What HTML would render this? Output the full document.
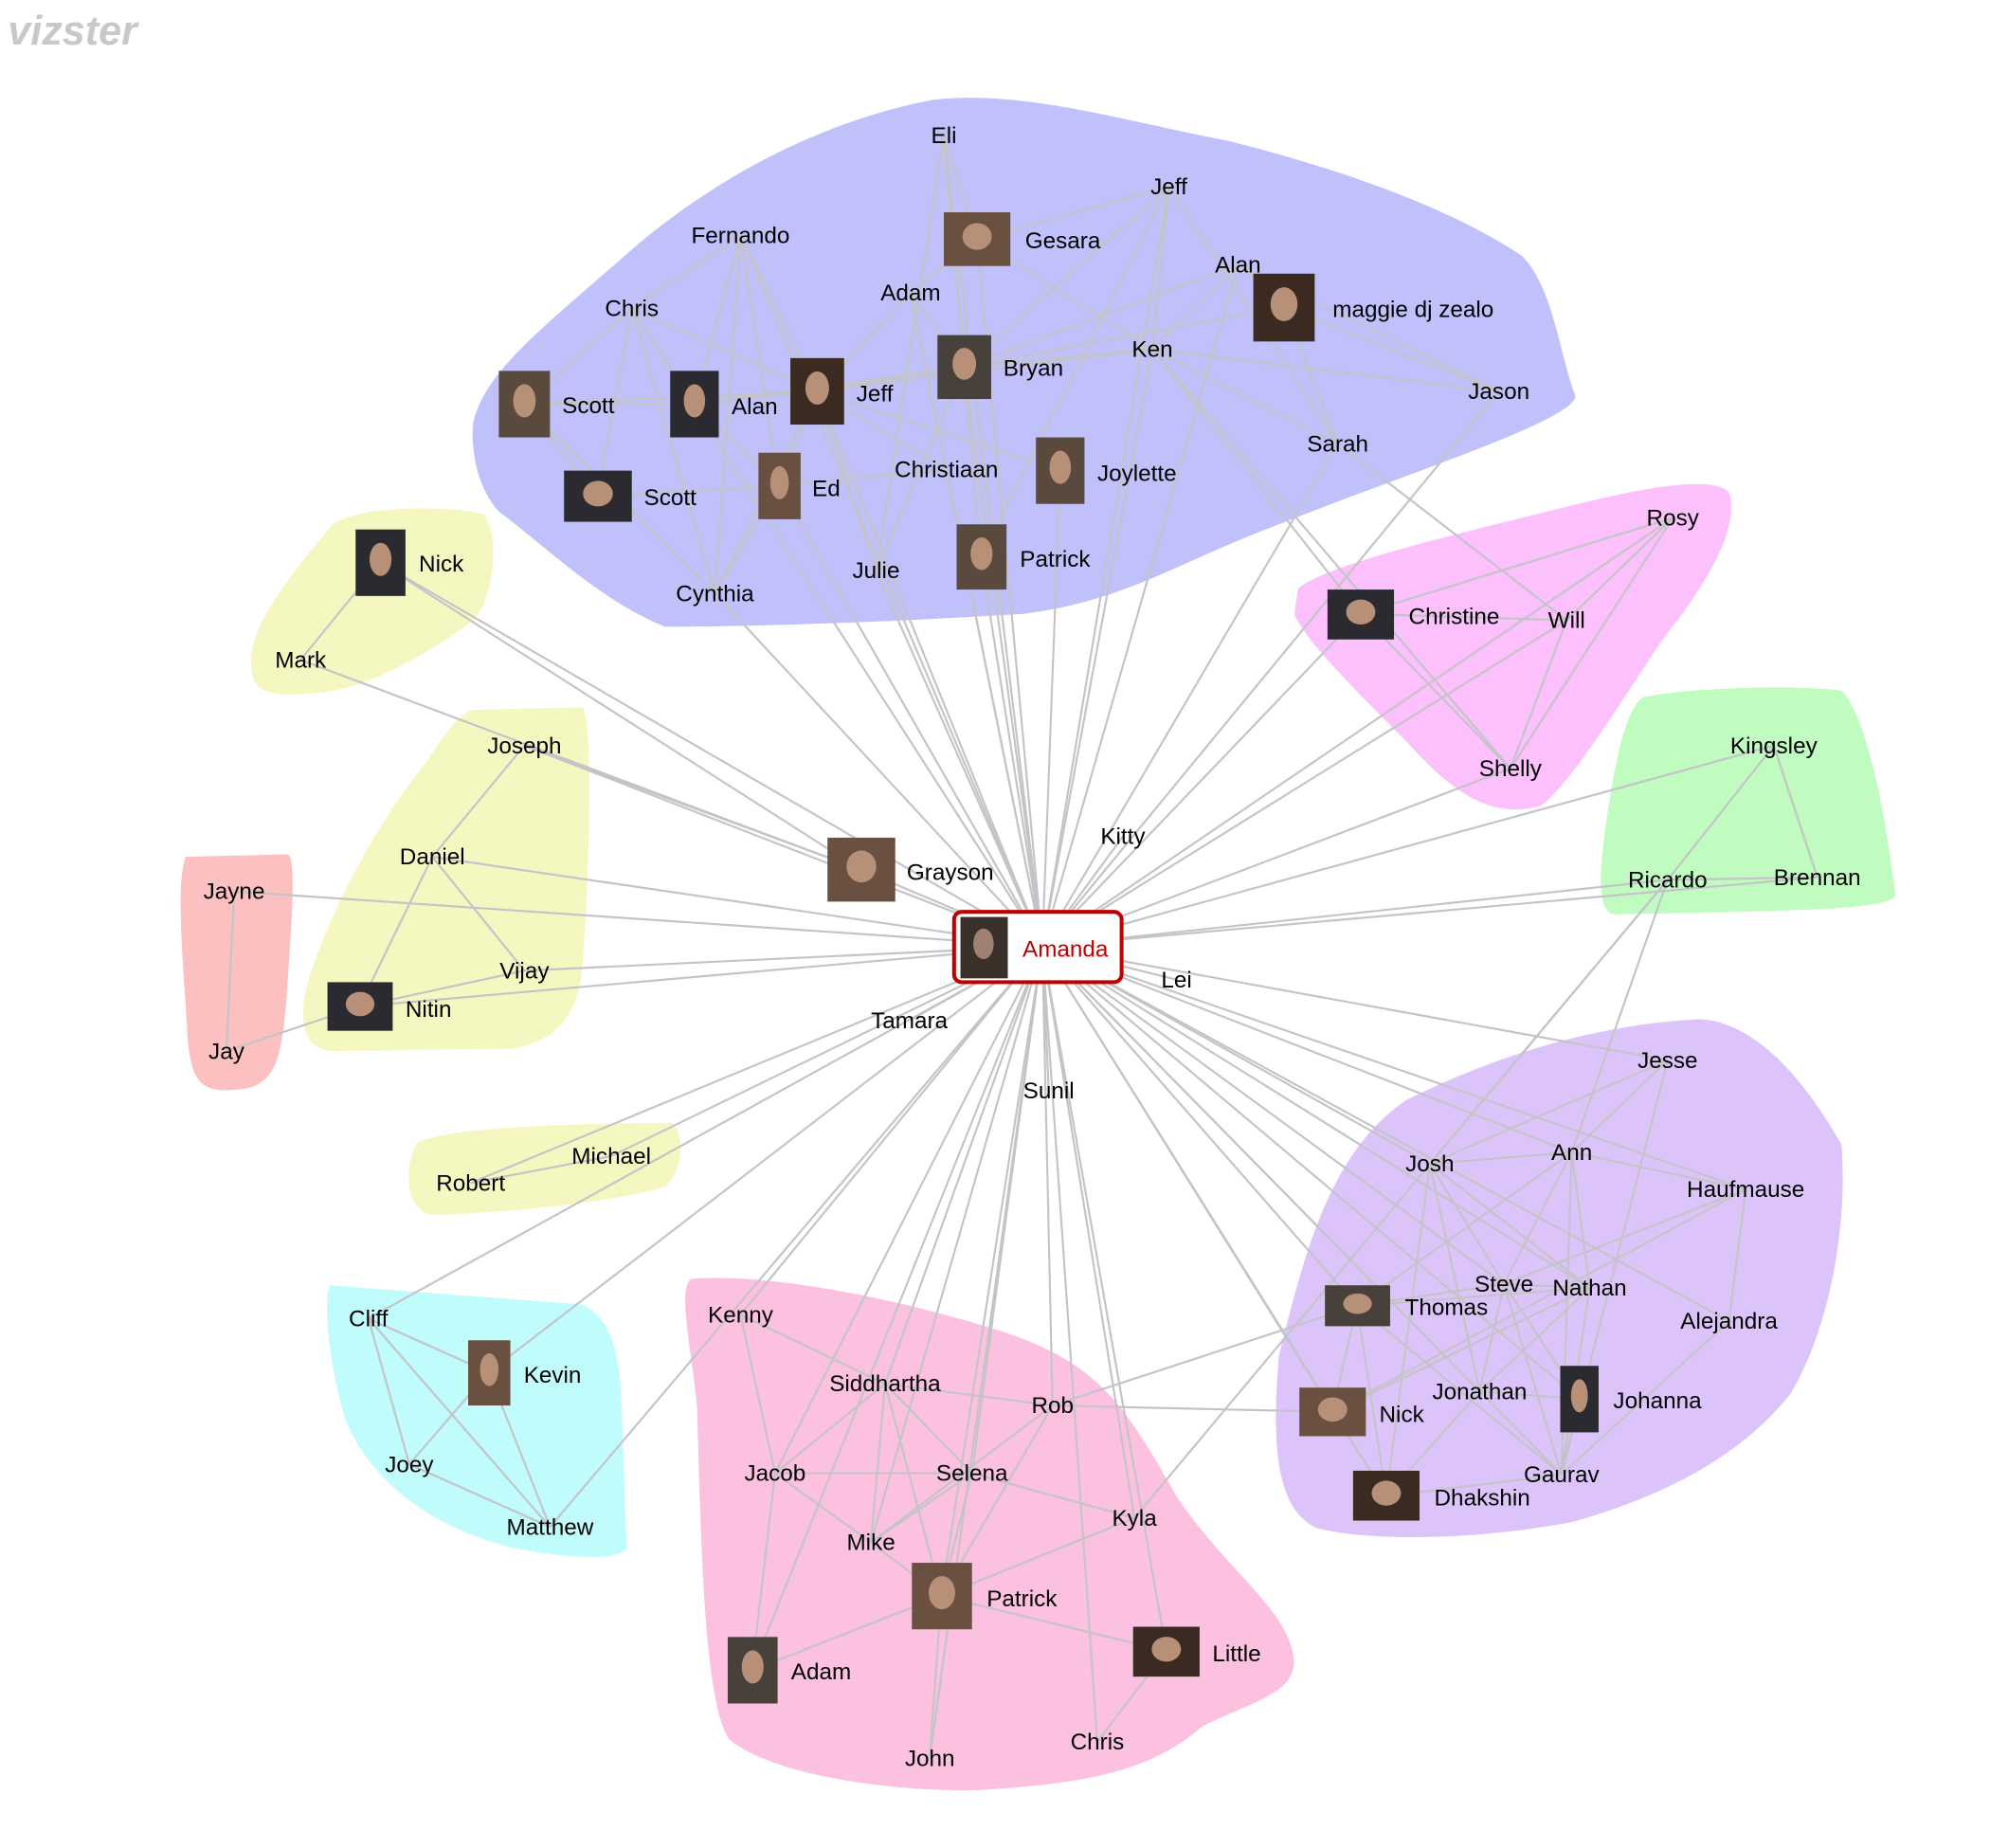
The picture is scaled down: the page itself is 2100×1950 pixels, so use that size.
<!DOCTYPE html>
<html><head><meta charset="utf-8"><style>
html,body{margin:0;padding:0;background:#fff}
svg{display:block}
text{font-family:"Liberation Sans",sans-serif;font-size:18px;fill:#000}
</style></head><body>
<svg id="s" width="2100" height="1950" viewBox="0 0 1556 1445" xmlns="http://www.w3.org/2000/svg">
<rect width="1556" height="1445" fill="#fff"/>
<text x="6" y="35" style="font-size:32px;font-weight:bold;font-style:italic;fill:#c8c8c8">vizster</text>
<g id="hulls">
<path d="M370,330 C380,290 420,260 500,190 C560,140 640,95 730,78 C800,70 880,95 960,110 C1040,130 1130,160 1190,200 C1215,225 1220,280 1232,310 C1228,330 1100,370 1000,410 C920,440 880,470 800,480 C700,486 600,490 520,490 C470,470 430,430 390,400 C372,380 368,350 370,330Z" fill="#c0c0fa"/>
<path d="M198,530 C190,500 210,470 260,410 C280,395 350,395 378,402 C392,420 385,470 370,485 C330,515 290,535 260,540 C230,545 200,545 198,530Z" fill="#f4f8c0"/>
<path d="M370,555 L455,553 C465,560 460,700 455,760 C450,800 430,815 400,820 L260,822 C240,820 232,805 240,770 C255,720 290,650 330,600 C345,580 355,560 370,555Z" fill="#f4f8c0"/>
<path d="M145,670 L225,668 C232,672 228,720 224,780 C220,830 215,850 185,852 C155,855 148,845 146,800 C142,740 138,690 145,670Z" fill="#fcc0c0"/>
<path d="M325,895 C340,880 480,878 525,878 C535,885 535,915 520,928 C480,940 400,948 340,950 C318,950 315,915 325,895Z" fill="#f4f8c0"/>
<path d="M258,1005 L455,1020 C478,1030 485,1060 486,1100 L490,1210 C485,1222 440,1218 400,1210 C340,1195 290,1160 270,1110 C258,1070 252,1020 258,1005Z" fill="#c0fcfc"/>
<path d="M540,1000 C600,995 700,1015 780,1040 C860,1065 880,1100 920,1170 C960,1230 1010,1260 1012,1300 C1010,1325 980,1330 940,1350 C900,1385 850,1395 760,1400 C680,1400 600,1385 570,1360 C550,1330 548,1200 545,1100 C540,1050 530,1010 540,1000Z" fill="#fcc0e0"/>
<path d="M1000,1060 C1020,980 1040,900 1100,860 C1180,820 1260,800 1330,797 C1380,800 1420,860 1440,895 C1445,960 1430,1040 1400,1090 C1360,1140 1300,1170 1230,1190 C1150,1205 1070,1205 1030,1195 C995,1180 995,1120 1000,1060Z" fill="#dcc4fa"/>
<path d="M1015,460 C1040,440 1150,415 1230,395 C1290,380 1340,372 1352,385 C1360,410 1340,450 1300,500 C1260,560 1230,610 1205,630 C1170,640 1140,625 1100,580 C1060,540 1020,500 1012,480Z" fill="#fcc0fc"/>
<path d="M1285,545 C1320,538 1400,535 1440,540 C1460,560 1475,640 1482,700 C1478,712 1400,712 1262,715 C1250,712 1250,690 1255,650 C1262,600 1270,555 1285,545Z" fill="#c0fcc0"/>
</g>
<g id="edges" stroke="#c4c4c8" stroke-width="1.6" fill="none"></g>
<g id="nodes"></g>
</svg>
<script>
var N={
A:[815,740],
eli:[738,106],jeff1:[914,146],fern:[579,184],ges:[764,187],alan1:[968,207],mag:[1004,240],chris1:[494,241],adam1:[712,229],ken:[901,273],bryan:[754,287],jeff2:[639,306],scott1:[410,316],alan2:[543,316],jason:[1172,306],sarah:[1046,347],chrt:[740,367],joy:[829,368],scott2:[467,388],ed:[609,380],julie:[685,446],cyn:[559,464],pat1:[767,435],
nick1:[297,440],mark:[235,516],joseph:[410,583],daniel:[338,670],vijay:[410,759],nitin:[281,787],jayne:[183,697],jay:[177,822],michael:[478,904],robert:[368,925],
cliff:[288,1031],kevin:[382,1073],joey:[320,1145],matthew:[430,1194],
kenny:[579,1028],sid:[692,1082],rob:[823,1099],jacob:[606,1152],selena:[760,1152],kyla:[887,1187],mike:[681,1206],pat2:[736,1248],adam2:[588,1306],little:[912,1291],john:[727,1375],chris2:[858,1362],
jesse:[1304,829],josh:[1118,910],ann:[1229,901],hauf:[1365,930],steve:[1176,1004],nathan:[1243,1007],thomas:[1061,1021],alej:[1352,1033],jon:[1157,1088],johanna:[1235,1094],nick2:[1042,1104],gaurav:[1221,1153],dhak:[1084,1170],
rosy:[1308,405],christine:[1064,480],will:[1225,485],shelly:[1181,601],
king:[1387,583],ricardo:[1304,688],brennan:[1421,686],
grayson:[673,680],kitty:[878,654],lei:[920,766],tamara:[711,798],sunil:[820,853]};
var E=[];
for(var k in N){if(k!='A'&&['mark','jay','robert','cliff','joey','matthew','eli','fern','chris1','scott1','scott2','mag','alan2','kevin'].indexOf(k)<0)E.push(['A',k]);}
E=E.concat([['jay','nitin'],['mark','grayson'],['nick1','grayson'],['joseph','grayson'],['robert','A'],['cliff','A'],['matthew','A'],['chris1','A'],['fern','A'],['eli','A'],['kevin','A'],
['eli','ges'],['eli','bryan'],['eli','julie'],['fern','chris1'],['fern','alan2'],['fern','jeff2'],['fern','cyn'],['fern','ed'],['chris1','scott1'],['chris1','alan2'],['chris1','jeff2'],['chris1','scott2'],['chris1','cyn'],['scott1','alan2'],['scott1','jeff2'],['scott1','scott2'],['alan2','jeff2'],['alan2','bryan'],['jeff2','bryan'],['jeff2','ken'],['jeff2','adam1'],['jeff2','joy'],['jeff2','julie'],['jeff2','cyn'],['adam1','bryan'],['adam1','ges'],['bryan','ken'],['bryan','mag'],['bryan','alan1'],['ges','ken'],['ges','jeff1'],['jeff1','ken'],['jeff1','sarah'],['jeff1','bryan'],['jeff1','pat1'],['alan1','ken'],['alan1','mag'],['alan1','jason'],['mag','jason'],['mag','sarah'],['ken','sarah'],['ken','christine'],['ken','shelly'],['ken','jason'],['scott2','ed'],['ed','chrt'],['ed','jeff2'],['ed','cyn'],['alan2','ed'],['julie','bryan'],['cyn','scott1'],['pat1','bryan'],['jeff2','chrt'],['sarah','will'],
['nick1','mark'],['joseph','daniel'],['daniel','vijay'],['daniel','nitin'],['vijay','nitin'],['jayne','jay'],['michael','robert'],['cliff','kevin'],['cliff','joey'],['cliff','matthew'],['kevin','joey'],['kevin','matthew'],['joey','matthew'],
['kenny','sid'],['kenny','jacob'],['sid','rob'],['sid','jacob'],['sid','mike'],['sid','selena'],['sid','pat2'],['jacob','selena'],['jacob','mike'],['jacob','adam2'],['selena','kyla'],['selena','mike'],['selena','pat2'],['rob','pat2'],['rob','mike'],['kyla','pat2'],['pat2','adam2'],['pat2','little'],['pat2','john'],['little','chris2'],['mike','pat2'],['rob','thomas'],['rob','nick2'],['kyla','ricardo'],
['jesse','josh'],['jesse','ann'],['jesse','gaurav'],['josh','ann'],['josh','steve'],['josh','jon'],['josh','dhak'],['josh','nathan'],['ann','hauf'],['ann','steve'],['ann','nathan'],['ann','gaurav'],['ann','thomas'],['hauf','alej'],['hauf','steve'],['hauf','nick2'],['steve','nathan'],['steve','thomas'],['steve','jon'],['steve','johanna'],['steve','gaurav'],['nathan','thomas'],['nathan','jon'],['nathan','gaurav'],['nathan','nick2'],['thomas','nick2'],['thomas','dhak'],['thomas','gaurav'],['jon','johanna'],['jon','dhak'],['johanna','gaurav'],['alej','gaurav'],['nick2','dhak'],['gaurav','dhak'],['ricardo','josh'],['ricardo','ann'],
['rosy','christine'],['rosy','will'],['rosy','shelly'],['christine','will'],['christine','shelly'],['will','shelly'],['king','ricardo'],['king','brennan'],['ricardo','brennan']]);
var eg=document.getElementById('edges'),ng=document.getElementById('nodes'),ns='http://www.w3.org/2000/svg';
E.forEach(function(e){var a=N[e[0]],b=N[e[1]];var l=document.createElementNS(ns,'line');l.setAttribute('x1',a[0]);l.setAttribute('y1',a[1]);l.setAttribute('x2',b[0]);l.setAttribute('y2',b[1]);eg.appendChild(l);});
// labels: [x,y,text,photo?[x,y,w,h]]
var L=[[738,106,'Eli'],[914,146,'Jeff'],[579,184,'Fernando'],[831,188,'Gesara',[738,166,52,42]],[968,207,'Alan'],[1105,242,'maggie dj zealo',[980,214,48,53]],[494,241,'Chris'],[712,229,'Adam'],[901,273,'Ken'],[808,288,'Bryan',[733,262,42,50]],[684,308,'Jeff',[618,280,42,52]],[460,317,'Scott',[390,290,40,52]],[590,318,'Alan',[524,290,38,52]],[1172,306,'Jason'],[1046,347,'Sarah'],[740,367,'Christiaan'],[889,370,'Joylette',[810,342,38,52]],[524,389,'Scott',[441,368,53,40]],[646,382,'Ed',[593,354,33,52]],[685,446,'Julie'],[559,464,'Cynthia'],[825,437,'Patrick',[748,410,39,51]],
[345,441,'Nick',[278,414,39,52]],[235,516,'Mark'],[410,583,'Joseph'],[338,670,'Daniel'],[410,759,'Vijay'],[335,789,'Nitin',[256,768,51,38]],[183,697,'Jayne'],[177,822,'Jay'],[478,904,'Michael'],[368,925,'Robert'],
[288,1031,'Cliff'],[432,1075,'Kevin',[366,1048,33,51]],[320,1145,'Joey'],[430,1194,'Matthew'],
[579,1028,'Kenny'],[692,1082,'Siddhartha'],[823,1099,'Rob'],[606,1152,'Jacob'],[760,1152,'Selena'],[887,1187,'Kyla'],[681,1206,'Mike'],[799,1250,'Patrick',[713,1222,47,52]],[642,1307,'Adam',[569,1280,39,52]],[967,1293,'Little',[886,1272,52,39]],[727,1375,'John'],[858,1362,'Chris'],
[1304,829,'Jesse'],[1118,910,'Josh'],[1229,901,'Ann'],[1365,930,'Haufmause'],[1176,1004,'Steve'],[1243,1007,'Nathan'],[1131,1022,'Thomas',[1036,1005,51,32]],[1352,1033,'Alejandra'],[1157,1088,'Jonathan'],[1296,1095,'Johanna',[1220,1068,30,52]],[1096,1106,'Nick',[1016,1085,52,38]],[1221,1153,'Gaurav'],[1159,1171,'Dhakshin',[1058,1150,52,39]],
[1308,405,'Rosy'],[1137,482,'Christine',[1038,461,52,39]],[1225,485,'Will'],[1181,601,'Shelly'],[1387,583,'Kingsley'],[1304,688,'Ricardo'],[1421,686,'Brennan'],
[743,682,'Grayson',[647,655,53,50]],[878,654,'Kitty'],[920,766,'Lei'],[711,798,'Tamara'],[820,853,'Sunil']];
var cols=['#3a2a22','#5a4a3e','#2a2a30','#6a5040','#48403a'];
L.forEach(function(d,i){
 if(d[3]){var p=d[3];var r=document.createElementNS(ns,'rect');r.setAttribute('x',p[0]);r.setAttribute('y',p[1]);r.setAttribute('width',p[2]);r.setAttribute('height',p[3]);r.setAttribute('fill',cols[i%5]);ng.appendChild(r);
  var c=document.createElementNS(ns,'ellipse');c.setAttribute('cx',p[0]+p[2]/2);c.setAttribute('cy',p[1]+p[3]*0.45);c.setAttribute('rx',p[2]*0.22);c.setAttribute('ry',p[3]*0.25);c.setAttribute('fill','#b89078');ng.appendChild(c);}
 var t=document.createElementNS(ns,'text');t.setAttribute('x',d[0]);t.setAttribute('y',d[1]+6);t.setAttribute('text-anchor','middle');t.textContent=d[2];ng.appendChild(t);
});
</script>
<svg style="position:absolute;left:0;top:0" width="2100" height="1950" viewBox="0 0 1556 1445">
<rect x="746" y="713" width="131" height="55" rx="6" fill="#fff" stroke="#c00000" stroke-width="3"/>
<rect x="751" y="717" width="37" height="48" fill="#3a302a"/>
<ellipse cx="769" cy="738" rx="8" ry="12" fill="#a08070"/>
<text x="833" y="748" text-anchor="middle" style="fill:#c00000">Amanda</text>
</svg>
</body></html>
